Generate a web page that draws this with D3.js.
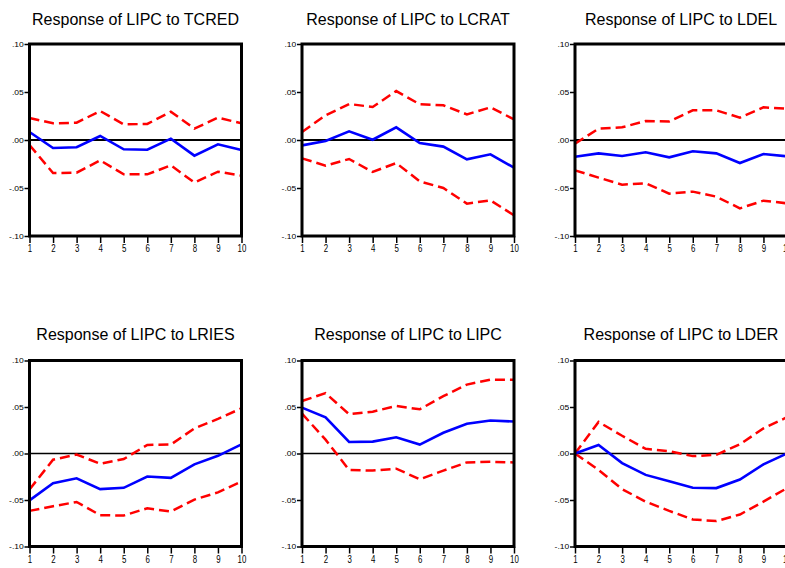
<!DOCTYPE html>
<html>
<head>
<meta charset="utf-8">
<script src="https://cdn.jsdelivr.net/npm/d3@7"></script>
<style>
  html, body { margin: 0; padding: 0; background: #fff; overflow: hidden; }
  svg { display: block; font-family: "Liberation Sans", Arial, sans-serif; }
</style>
</head>
<body>
<svg id="chart" width="785" height="568"></svg>
<script>
// Impulse responses of LIPC, periods 1..10
const periods = [1, 2, 3, 4, 5, 6, 7, 8, 9, 10];
const titles = [
  "Response of LIPC to TCRED", "Response of LIPC to LCRAT", "Response of LIPC to LDEL",
  "Response of LIPC to LRIES", "Response of LIPC to LIPC", "Response of LIPC to LDER"
];
const yTicks = [-0.10, -0.05, 0.00, 0.05, 0.10];
const yTickLabels = ["-.10", "-.05", ".00", ".05", ".10"];

// TCRED
const respTCRED  = [0.0083, -0.0083, -0.0076, 0.0042, -0.0097, -0.0101, 0.0014, -0.0163, -0.0045, -0.0104];
const upperTCRED = [0.0229, 0.0174, 0.0180, 0.0302, 0.0163, 0.0167, 0.0295, 0.0118, 0.0233, 0.0174];
const lowerTCRED = [-0.0052, -0.0344, -0.0340, -0.0212, -0.0358, -0.0358, -0.0264, -0.0444, -0.0330, -0.0372];
// LCRAT
const respLCRAT  = [-0.0056, -0.0010, 0.0090, 0.0003, 0.0132, -0.0031, -0.0069, -0.0201, -0.0149, -0.0288];
const upperLCRAT = [0.0083, 0.0257, 0.0375, 0.0344, 0.0510, 0.0372, 0.0361, 0.0267, 0.0340, 0.0215];
const lowerLCRAT = [-0.0191, -0.0267, -0.0198, -0.0333, -0.0240, -0.0431, -0.0500, -0.0663, -0.0628, -0.0785];
// LDEL
const respLDEL  = [-0.0174, -0.0139, -0.0167, -0.0128, -0.0181, -0.0118, -0.0139, -0.0240, -0.0146, -0.0170];
const upperLDEL = [-0.0038, 0.0118, 0.0132, 0.0198, 0.0194, 0.0309, 0.0309, 0.0233, 0.0340, 0.0326];
const lowerLDEL = [-0.0316, -0.0392, -0.0465, -0.0451, -0.0559, -0.0538, -0.0590, -0.0712, -0.0632, -0.0660];
// LRIES
const respLRIES  = [-0.0504, -0.0319, -0.0266, -0.0383, -0.0369, -0.0248, -0.0262, -0.0117, -0.0025, 0.0099];
const upperLRIES = [-0.0387, -0.0067, -0.0011, -0.0110, -0.0060, 0.0092, 0.0096, 0.0270, 0.0372, 0.0486];
const lowerLRIES = [-0.0617, -0.0567, -0.0521, -0.0663, -0.0667, -0.0589, -0.0624, -0.0496, -0.0418, -0.0301];
// LIPC
const respLIPC  = [0.0493, 0.0390, 0.0124, 0.0128, 0.0174, 0.0096, 0.0223, 0.0319, 0.0355, 0.0344];
const upperLIPC = [0.0564, 0.0649, 0.0422, 0.0450, 0.0511, 0.0475, 0.0617, 0.0741, 0.0794, 0.0794];
const lowerLIPC = [0.0429, 0.0149, -0.0177, -0.0184, -0.0163, -0.0277, -0.0184, -0.0096, -0.0089, -0.0096];
// LDER
const respLDER  = [0.0000, 0.0092, -0.0103, -0.0230, -0.0298, -0.0369, -0.0372, -0.0280, -0.0117, 0.0000];
const upperLDER = [0.0000, 0.0340, 0.0191, 0.0050, 0.0025, -0.0028, -0.0014, 0.0099, 0.0270, 0.0390];
const lowerLDER = [0.0000, -0.0177, -0.0383, -0.0518, -0.0617, -0.0709, -0.0727, -0.0656, -0.0518, -0.0372];

const panels = [
  { title: titles[0], resp: respTCRED, upper: upperTCRED, lower: lowerTCRED },
  { title: titles[1], resp: respLCRAT, upper: upperLCRAT, lower: lowerLCRAT },
  { title: titles[2], resp: respLDEL,  upper: upperLDEL,  lower: lowerLDEL },
  { title: titles[3], resp: respLRIES, upper: upperLRIES, lower: lowerLRIES },
  { title: titles[4], resp: respLIPC,  upper: upperLIPC,  lower: lowerLIPC },
  { title: titles[5], resp: respLDER,  upper: upperLDER,  lower: lowerLDER }
];

// Grid layout: 3 columns x 2 rows (the third column runs past the right edge)
const colLeft = [29.5, 302, 575];
const panelW = 212;
const rowTop = [44, 360.5];
const rowH = [192, 186];
const titleY = [25, 340];

const svg = d3.select("#chart");

panels.forEach((p, i) => {
  const col = i % 3, row = Math.floor(i / 3);
  const left = colLeft[col], top = rowTop[row];
  const w = panelW, h = rowH[row];

  const x = d3.scaleLinear().domain([1, 10]).range([left, left + w]);
  const y = d3.scaleLinear().domain([-0.10, 0.10]).range([top + h, top]);

  const g = svg.append("g");

  // title
  g.append("text")
    .attr("x", left + w / 2)
    .attr("y", titleY[row])
    .attr("text-anchor", "middle")
    .attr("font-size", 16)
    .attr("fill", "#000")
    .text(p.title);

  // y axis
  const yAxis = d3.axisLeft(y)
    .tickValues(yTicks)
    .tickSize(5)
    .tickPadding(1)
    .tickFormat((d, k) => yTickLabels[k]);
  const ya = g.append("g").attr("transform", `translate(${left},0)`).call(yAxis);
  ya.select(".domain").remove();
  ya.selectAll(".tick line").attr("stroke", "#000").attr("stroke-width", 1.5);
  ya.selectAll(".tick text")
    .attr("font-size", 9)
    .attr("font-family", "Liberation Sans, Arial, sans-serif")
    .attr("fill", "#000")
    .attr("transform", "scale(0.95,0.85)");

  // x axis, labels condensed horizontally about each tick
  const xAxis = d3.axisBottom(x)
    .tickValues(periods)
    .tickSize(7)
    .tickPadding(2)
    .tickFormat(d3.format("d"));
  const xa = g.append("g").attr("transform", `translate(0,${top + h})`).call(xAxis);
  xa.select(".domain").remove();
  xa.selectAll(".tick line").attr("stroke", "#000").attr("stroke-width", 1.5);
  xa.selectAll(".tick text")
    .attr("font-size", 10.5)
    .attr("font-family", "Liberation Sans, Arial, sans-serif")
    .attr("fill", "#000")
    .attr("transform", "scale(0.75,1)");

  // zero line
  g.append("line")
    .attr("x1", x(1)).attr("x2", x(10))
    .attr("y1", y(0)).attr("y2", y(0))
    .attr("stroke", "#000")
    .attr("stroke-width", row === 0 ? 2 : 1.6);

  const line = d3.line()
    .x((d, k) => x(periods[k]))
    .y(d => y(d));

  // confidence bands
  [p.upper, p.lower].forEach(band => {
    g.append("path")
      .attr("d", line(band))
      .attr("fill", "none")
      .attr("stroke", "#ff0000")
      .attr("stroke-width", 2.5)
      .attr("stroke-dasharray", "10,5");
  });

  // response
  g.append("path")
    .attr("d", line(p.resp))
    .attr("fill", "none")
    .attr("stroke", "#0000ff")
    .attr("stroke-width", 2.6);

  // frame
  g.append("rect")
    .attr("x", left).attr("y", top)
    .attr("width", w).attr("height", h)
    .attr("fill", "none")
    .attr("stroke", "#000")
    .attr("stroke-width", 3);
});
</script>
</body>
</html>
